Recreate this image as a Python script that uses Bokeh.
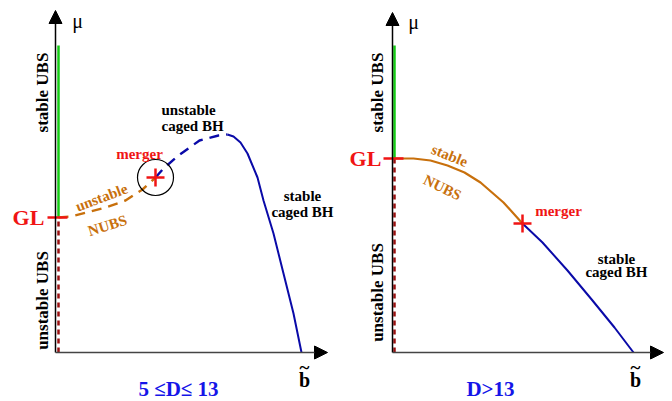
from bokeh.plotting import figure
from bokeh.layouts import row
from bokeh.models import Range1d, Arrow, NormalHead
from bokeh.core.properties import value
from bokeh.embed import file_html
from bokeh.resources import INLINE

# ---------------- data (schematic units, origin at axes corner) ----------------
# Left panel: 5 <= D <= 13
L_gl_mu = 135
L_ubs_b = 3
L_ubs_top = 307
L_nubs_b = [3, 15, 31, 50, 70, 87, 100]
L_nubs_mu = [135, 136, 140, 145, 152, 163, 175]
L_cage_unst_b = [100, 108, 123, 144, 163, 172]
L_cage_unst_mu = [175, 184, 197, 212, 217, 218]
L_cage_st_b = [172, 178, 185, 192, 202, 208, 218, 228, 238, 246]
L_cage_st_mu = [218, 216, 210, 199, 175, 152, 119, 79, 39, 0]
L_merger = (100, 175)

# Right panel: D > 13
R_gl_mu = 194
R_ubs_b = 2
R_ubs_top = 307
R_nubs_b = [2, 21, 38, 55, 72, 88, 111, 130]
R_nubs_mu = [194, 194, 192, 187, 180, 170, 150, 129]
R_cage_b = [130, 150, 175, 200, 222, 241]
R_cage_mu = [129, 110, 82, 52, 25, 0]
R_merger = (130, 129)

ORANGE = "#c8700c"
BLUE = "#0a0aa8"
RED = "#f01414"
DARKRED = "#9a1010"
GREEN = "#14cc14"
SERIF = value("Liberation Serif")


def base(xr, yr):
    p = figure(width=336, height=401, x_range=Range1d(*xr), y_range=Range1d(*yr),
               output_backend="svg", toolbar_location=None, min_border=0)
    p.axis.visible = False
    p.grid.visible = False
    p.outline_line_color = None
    return p


def label(p, x, y, txt, size, color="black", angle=0.0, bold=True, align="center"):
    p.text(x=[x], y=[y], text=[txt], text_font=SERIF, text_font_size=f"{size}px",
           text_font_style="bold" if bold else "normal", text_color=color,
           text_align=align, text_baseline="middle", angle=angle)


def axes(p, xtip, ytip):
    p.add_layout(Arrow(end=NormalHead(size=13, fill_color="black", line_color="black"),
                       x_start=0, y_start=0, x_end=0, y_end=ytip,
                       line_color="black", line_width=1.5))
    p.add_layout(Arrow(end=NormalHead(size=13, fill_color="black", line_color="black"),
                       x_start=0, y_start=0, x_end=xtip, y_end=0,
                       line_color="#444444", line_width=1.5))


# ---------------- left panel ----------------
p1 = base((-55, 281), (-49, 352))
axes(p1, 272, 342)
p1.line([L_ubs_b, L_ubs_b], [L_gl_mu, L_ubs_top], line_color=GREEN, line_width=2.5)
p1.line([L_ubs_b, L_ubs_b], [0, L_gl_mu], line_color=DARKRED, line_width=2.5, line_dash="5 4")
p1.line(L_nubs_b, L_nubs_mu, line_color=ORANGE, line_width=2.4, line_dash="10 7")
p1.line(L_cage_unst_b, L_cage_unst_mu, line_color=BLUE, line_width=2.4, line_dash="10 7")
p1.line(L_cage_st_b, L_cage_st_mu, line_color=BLUE, line_width=2)
p1.line([-8, 12], [L_gl_mu, L_gl_mu], line_color=RED, line_width=2.5)
p1.scatter([L_merger[0]], [L_merger[1]], marker="circle", size=36, fill_color=None,
           line_color="black", line_width=1.2)
p1.scatter([L_merger[0]], [L_merger[1]], marker="cross", size=18, line_color=RED, line_width=2.5)

label(p1, -27, L_gl_mu, "GL", 22, RED)
label(p1, 22, 332, "μ", 20, bold=False)
label(p1, 249, -27, "b", 20)
label(p1, 249, -15, "~", 19)
label(p1, 123, -36, "5 ≤D≤ 13", 21, "#1515e8")
label(p1, -13, 260, "stable UBS", 17, angle=1.5708)
label(p1, -13, 52, "unstable UBS", 17, angle=1.5708)
label(p1, 106, 243, "unstable", 15, align="left")
label(p1, 106, 227, "caged BH", 15, align="left")
label(p1, 84, 199, "merger", 15, RED)
label(p1, 46, 155, "unstable", 15, ORANGE, angle=0.36)
label(p1, 52, 127, "NUBS", 15, ORANGE, angle=0.30)
label(p1, 247, 157, "stable", 15)
label(p1, 247, 141, "caged BH", 15)

# ---------------- right panel ----------------
p2 = base((-56, 280), (-49, 352))
axes(p2, 271, 340)
p2.line([R_ubs_b, R_ubs_b], [R_gl_mu, R_ubs_top], line_color=GREEN, line_width=2.5)
p2.line([R_ubs_b, R_ubs_b], [0, R_gl_mu], line_color=DARKRED, line_width=2.5, line_dash="5 4")
p2.line(R_nubs_b, R_nubs_mu, line_color=ORANGE, line_width=2.2)
p2.line(R_cage_b, R_cage_mu, line_color=BLUE, line_width=2)
p2.line([-9, 11], [R_gl_mu, R_gl_mu], line_color=RED, line_width=2.5)
p2.scatter([R_merger[0]], [R_merger[1]], marker="cross", size=18, line_color=RED, line_width=2.5)

label(p2, -27, R_gl_mu, "GL", 22, RED)
label(p2, 21, 331, "μ", 20, bold=False)
label(p2, 243, -27, "b", 20)
label(p2, 243, -15, "~", 19)
label(p2, 98, -36, "D>13", 21, "#1515e8")
label(p2, -15, 260, "stable UBS", 17, angle=1.5708)
label(p2, -15, 60, "unstable UBS", 17, angle=1.5708)
label(p2, 57, 197, "stable", 15, ORANGE, angle=-0.38)
label(p2, 50, 165, "NUBS", 15, ORANGE, angle=-0.45)
label(p2, 166, 142, "merger", 15, RED)
label(p2, 224, 94, "stable", 15)
label(p2, 224, 81, "caged BH", 15)

layout = row(p1, p2)
open("out.html", "w").write(file_html(layout, INLINE))
